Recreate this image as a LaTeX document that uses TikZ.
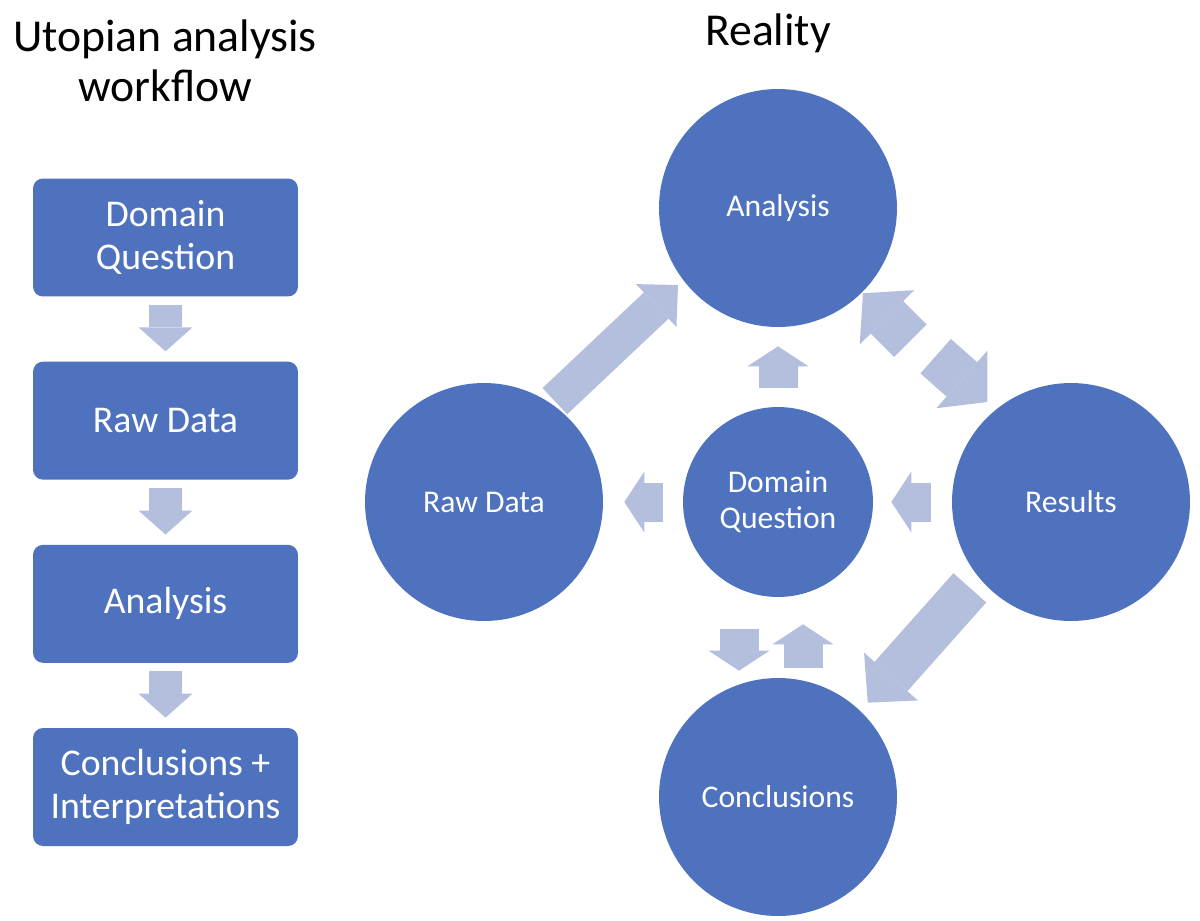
\documentclass[tikz,border=0pt]{standalone}
\usepackage{fontspec}
\setmainfont{Carlito}
\usepackage{xcolor}
\usetikzlibrary{arrows.meta,positioning,calc}
\definecolor{shapeblue}{HTML}{4F72BE}
\definecolor{arrowblue}{HTML}{B4BEDD}

\begin{document}
\begin{tikzpicture}[
    x=0.02cm, y=-0.02cm,
    node distance=1.29cm,
    stepbox/.style={
      fill=shapeblue,
      rounded corners=0.2cm,
      align=center,
      minimum width=5.3cm,
      minimum height=2.36cm,
      text=white,
      font=\fontsize{21.5}{24.4}\selectfont
    },
    bigcircle/.style={
      circle,
      fill=shapeblue,
      minimum size=4.76cm,
      inner sep=0pt,
      align=center,
      text=white,
      font=\fontsize{18}{20.4}\selectfont
    },
    smallcircle/.style={bigcircle,minimum size=3.8cm},
    title/.style={align=center,font=\fontsize{26}{28.4}\selectfont},
    flow/.style n args={3}{draw=arrowblue,line width=#1,
      -{Triangle[width=#2,length=#3,line width=0pt]}},
    stepflow/.style={flow={0.66cm}{1.08cm}{0.48cm},shorten <=0.16cm,shorten >=0.2cm},
    smallflow/.style={flow={0.78cm}{1.22cm}{0.4cm}},
    midflow/.style={flow={0.92cm}{1.54cm}{0.68cm}}
  ]
    \useasboundingbox (0,0) rectangle (1200,920);

    \node[title] (utopia) at (165,61) {Utopian analysis\\workflow};
    \node[title,anchor=base] (reality) at (768,45) {Reality};

    \node[stepbox] (qbox) at (165.5,237.5) {Domain\\Question};
    \node[stepbox,below=of qbox] (dbox) {Raw Data};
    \node[stepbox,below=of dbox] (abox) {Analysis};
    \node[stepbox,below=of abox] (cbox) {Conclusions +\\Interpretations};
    \draw[stepflow] (qbox) -- (dbox);
    \draw[stepflow] (dbox) -- (abox);
    \draw[stepflow] (abox) -- (cbox);

    \node[bigcircle] (ana) at (778,208) {Analysis};
    \node[bigcircle] (raw) at (484,502) {Raw Data};
    \node[smallcircle] (dq) at (778,502) {Domain\\Question};
    \node[bigcircle] (res) at (1071,502) {Results};
    \node[bigcircle] (con) at (778,797) {Conclusions};

    \draw[flow={0.72cm}{1.18cm}{0.6cm}] ($(raw)!0.292!(ana)+(-15,-15)$) -- ($(raw)!0.699!(ana)+(-11.5,-11.5)$);
    \draw[midflow] ($(ana)!0.4515!(res)$) -- ($(ana)!0.29!(res)$);
    \draw[midflow] ($(ana)!0.521!(res)+(5,-5)$) -- ($(ana)!0.687!(res)+(8,-8)$);
    \draw[flow={0.88cm}{1.44cm}{0.7cm}] ($(res)!0.318!(con)+(-8,-8)$) -- ($(res)!0.687!(con)+(-2,-2)$);

    \draw[smallflow,shorten <=0.38cm,shorten >=0.38cm] (dq) -- (ana);
    \draw[smallflow,shorten <=0.4cm,shorten >=0.42cm] (dq) -- (raw);
    \draw[smallflow,shorten <=0.42cm,shorten >=0.36cm] (res) -- (dq);
    \draw[smallflow,shorten <=0.64cm,shorten >=0.14cm] ([xshift=-0.78cm]dq.south) -- ([xshift=-0.78cm]con.north);
    \draw[smallflow,shorten <=0.2cm,shorten >=0.54cm] ([xshift=0.5cm]con.north) -- ([xshift=0.5cm]dq.south);
  \end{tikzpicture}
\end{document}
